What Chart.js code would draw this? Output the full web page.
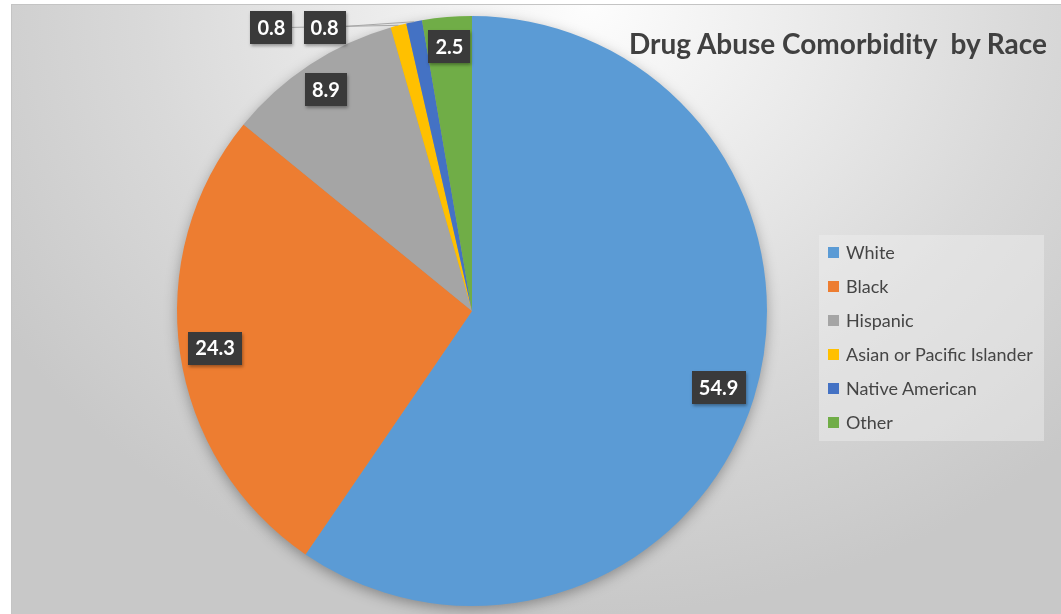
<!DOCTYPE html>
<html>
<head>
<meta charset="utf-8">
<script src="https://cdn.jsdelivr.net/npm/chart.js@4"></script>
<style>
  html, body { margin: 0; padding: 0; background: #fff; }
  #wrap {
    position: absolute; left: 11px; top: 4px; width: 1050px; height: 610px;
    border-top: 1px solid #c4c4c4; border-left: 1px solid #c4c4c4; box-sizing: border-box;
    background: radial-gradient(ellipse 66% 100% at 55% 0%, #fdfdfd 0%, #ebebeb 32%, #d9d9d9 64%, #c8c8c8 100%);
    overflow: hidden;
  }
  #grafico { position: absolute; left: 0; top: 0; width: 1050px; height: 610px; }
  #titulo {
    position: absolute; right: 14px; top: 21px; white-space: pre;
    font: bold 28px Lato, sans-serif; color: #404040;
  }
  #legenda {
    position: absolute; left: 807px; top: 230px; width: 225px; height: 206px;
    background: rgba(240,240,240,0.45); box-sizing: border-box; padding-top: 0;
  }
  .item { height: 34px; display: flex; align-items: center; padding-left: 9px;
    font: 18px Lato, sans-serif; color: #454545; }
  .item span { display: inline-block; width: 11px; height: 11px; margin-right: 7px; }
</style>
</head>
<body>
<div id="wrap">
  <canvas id="grafico" width="1050" height="610"></canvas>
  <div id="titulo">Drug Abuse Comorbidity  by Race</div>
  <div id="legenda"></div>
</div>
<script>
const racas = ['White', 'Black', 'Hispanic', 'Asian or Pacific Islander', 'Native American', 'Other']
const valores = [54.9, 24.3, 8.9, 0.8, 0.8, 2.5]
const cores = ['#5B9BD5', '#ED7D31', '#A5A5A5', '#FFC000', '#4472C4', '#70AD47']

// fatias muito finas: rotulo fora da pizza, em fracoes do raio
const rotulosFora = { 3: [-0.68, -0.96], 4: [-0.50, -0.96] }
// distancia do rotulo ao centro (fracao do raio)
const distRotulo = [0.875, 0.88, 0.9, 0, 0, 0.9]

// legenda em html
const legenda = document.getElementById('legenda')
racas.forEach((raca, i) => {
    const div = document.createElement('div')
    div.classList.add('item')
    div.innerHTML = `<span style="background:${cores[i]}"></span>${raca}`
    legenda.appendChild(div)
})

// sombra por baixo do circulo
const sombraPizza = {
    id: 'sombraPizza',
    beforeDatasetsDraw(chart) {
        const arc = chart.getDatasetMeta(0).data[0]
        if (!arc) return
        const { x, y, outerRadius } = arc.getProps(['x', 'y', 'outerRadius'], true)
        const ctx = chart.ctx
        ctx.save()
        ctx.shadowColor = 'rgba(0,0,0,0.35)'
        ctx.shadowBlur = 14
        ctx.shadowOffsetY = 4
        ctx.fillStyle = '#999'
        ctx.beginPath()
        ctx.arc(x, y, outerRadius - 1, 0, Math.PI * 2)
        ctx.fill()
        ctx.restore()
    }
}

// caixinhas escuras com os valores
const rotulos = {
    id: 'rotulos',
    afterDatasetsDraw(chart) {
        const ctx = chart.ctx
        const meta = chart.getDatasetMeta(0)
        ctx.save()
        ctx.font = 'bold 20px Lato, sans-serif'
        ctx.textAlign = 'center'
        ctx.textBaseline = 'middle'
        const caixas = []
        meta.data.forEach((arc, i) => {
            const p = arc.getProps(['x', 'y', 'startAngle', 'endAngle', 'outerRadius'], true)
            const meio = (p.startAngle + p.endAngle) / 2
            const texto = valores[i].toFixed(1)
            let lx, ly
            if (rotulosFora[i]) {
                lx = p.x + rotulosFora[i][0] * p.outerRadius
                ly = p.y + rotulosFora[i][1] * p.outerRadius
                // linha ate a borda da fatia
                ctx.strokeStyle = '#a6a6a6'
                ctx.lineWidth = 1
                ctx.beginPath()
                ctx.moveTo(lx, ly)
                ctx.lineTo(p.x + Math.cos(meio) * p.outerRadius, p.y + Math.sin(meio) * p.outerRadius)
                ctx.stroke()
            } else {
                lx = p.x + Math.cos(meio) * p.outerRadius * distRotulo[i]
                ly = p.y + Math.sin(meio) * p.outerRadius * distRotulo[i]
            }
            caixas.push({ lx, ly, texto })
        })
        caixas.forEach(c => {
            const w = ctx.measureText(c.texto).width + 14
            const h = 33
            ctx.shadowColor = 'rgba(0,0,0,0.35)'
            ctx.shadowBlur = 3
            ctx.shadowOffsetX = 1
            ctx.shadowOffsetY = 2
            ctx.fillStyle = '#3a3a3a'
            ctx.fillRect(Math.round(c.lx - w / 2), Math.round(c.ly - h / 2), Math.round(w), h)
            ctx.shadowColor = 'transparent'
            ctx.fillStyle = '#ffffff'
            ctx.fillText(c.texto, c.lx, c.ly + 1)
        })
        ctx.restore()
    }
}

const grafico = new Chart(document.getElementById('grafico'), {
    type: 'pie',
    data: {
        labels: racas,
        datasets: [{
            data: valores,
            backgroundColor: cores,
            borderWidth: 0,
            hoverOffset: 0
        }]
    },
    options: {
        responsive: false,
        animation: false,
        layout: { padding: { left: 165, right: 295, top: 11, bottom: 9 } },
        plugins: {
            legend: { display: false },
            tooltip: { enabled: false }
        }
    },
    plugins: [sombraPizza, rotulos]
})
</script>
</body>
</html>
